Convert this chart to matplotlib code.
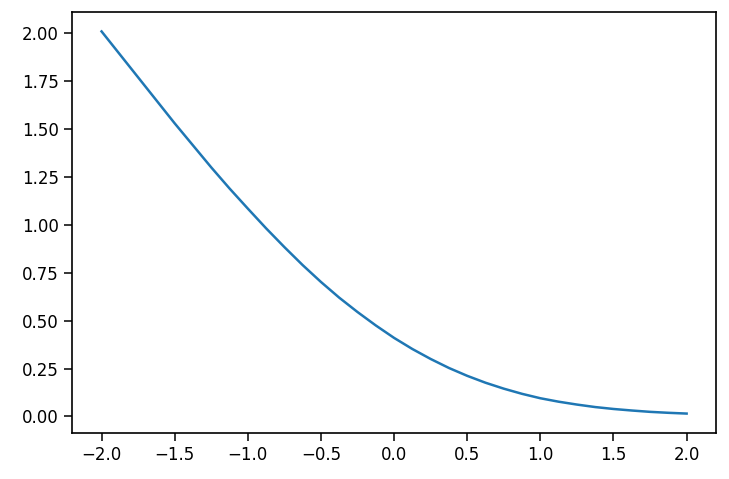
import numpy as np
from matplotlib import pyplot as plt

# values
x_vals = [-2.0, -1.875, -1.75, -1.625, -1.5, -1.375, -1.25, -1.125, -1.0,
          -0.875, -0.75, -0.625, -0.5, -0.375, -0.25, -0.125, 0.0,
          0.125, 0.25, 0.375, 0.5, 0.625, 0.75, 0.875, 1.0,
          1.125, 1.25, 1.375, 1.5, 1.625, 1.75, 1.875, 2.0]
y_vals = [2.01, 1.89, 1.77, 1.65, 1.53, 1.415, 1.30, 1.19, 1.085,
          0.982, 0.884, 0.790, 0.702, 0.620, 0.545, 0.475, 0.41,
          0.352, 0.30, 0.253, 0.212, 0.176, 0.145, 0.118, 0.095,
          0.077, 0.062, 0.049, 0.039, 0.031, 0.024, 0.019, 0.015]

fig = plt.figure(figsize=(7.29, 4.79), dpi=100)
ax = fig.add_axes([0.0992, 0.0967, 0.8828, 0.8776])
ax.plot(x_vals, y_vals, color="#1f77b4", linewidth=1.8)
ax.set_xticks([-2.0, -1.5, -1.0, -0.5, 0.0, 0.5, 1.0, 1.5, 2.0])
ax.set_yticks([0.0, 0.25, 0.5, 0.75, 1.0, 1.25, 1.5, 1.75, 2.0])
ax.tick_params(labelsize=12, length=6, width=1.1)
for s in ax.spines.values():
    s.set_linewidth(1.2)
plt.savefig("out.png")
